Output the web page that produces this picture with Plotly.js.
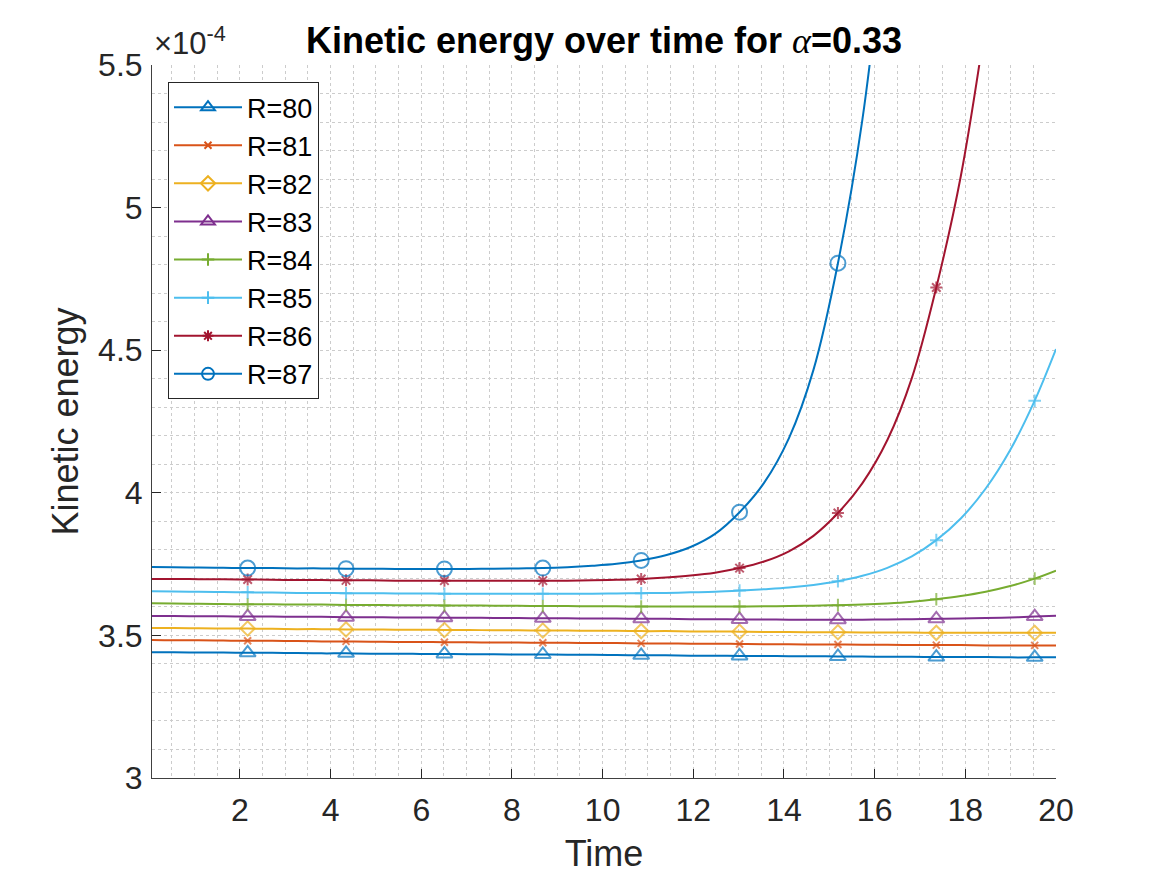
<!DOCTYPE html>
<html>
<head>
<meta charset="utf-8">
<script src="https://cdn.plot.ly/plotly-3.0.1.min.js"></script>
<style>
  html, body { margin: 0; padding: 0; background: #ffffff; }
  #chart { width: 1167px; height: 875px; }
  /* legend entries are drawn at full strength */
  #chart .legend .traces { opacity: 1 !important; }
</style>
</head>
<body>
<div id="chart"></div>
<script>
// Sample times of the simulation output
const time = [0.06, 0.54, 1.09, 1.63, 2.17, 2.71, 3.26, 3.80, 4.34, 4.88,
              5.43, 5.97, 6.51, 7.05, 7.60, 8.14, 8.68, 9.22, 9.77, 10.31,
              10.85, 11.39, 11.94, 12.48, 13.02, 13.56, 14.11, 14.65, 15.19, 15.73,
              16.28, 16.82, 17.36, 17.90, 18.45, 18.99, 19.53, 20.00];

// Times at which a marker is placed on each curve
const markerTimes = [2.17, 4.34, 6.51, 8.68, 10.85, 13.02, 15.19, 17.36, 19.53];

// Kinetic energy (in units of 1e-4) for each Reynolds number
const ke80 = [3.441, 3.441, 3.440, 3.440, 3.439, 3.439, 3.438, 3.437, 3.437, 3.436,
              3.436, 3.435, 3.435, 3.434, 3.434, 3.433, 3.433, 3.432, 3.432, 3.431,
              3.430, 3.430, 3.429, 3.429, 3.428, 3.428, 3.427, 3.427, 3.426, 3.426,
              3.425, 3.425, 3.424, 3.424, 3.424, 3.423, 3.423, 3.423];
const ke81 = [3.484, 3.483, 3.483, 3.482, 3.481, 3.481, 3.480, 3.479, 3.479, 3.478,
              3.477, 3.477, 3.476, 3.476, 3.475, 3.475, 3.474, 3.474, 3.473, 3.473,
              3.472, 3.472, 3.471, 3.471, 3.470, 3.469, 3.469, 3.468, 3.468, 3.467,
              3.467, 3.466, 3.466, 3.466, 3.465, 3.465, 3.465, 3.465];
const ke82 = [3.526, 3.526, 3.525, 3.524, 3.524, 3.523, 3.522, 3.522, 3.521, 3.521,
              3.520, 3.520, 3.519, 3.519, 3.518, 3.518, 3.517, 3.517, 3.516, 3.516,
              3.515, 3.515, 3.514, 3.514, 3.513, 3.512, 3.512, 3.511, 3.511, 3.510,
              3.510, 3.510, 3.509, 3.509, 3.509, 3.509, 3.509, 3.509];
const ke83 = [3.568, 3.568, 3.567, 3.567, 3.566, 3.566, 3.565, 3.565, 3.564, 3.564,
              3.563, 3.563, 3.562, 3.562, 3.561, 3.561, 3.560, 3.560, 3.559, 3.559,
              3.558, 3.558, 3.557, 3.557, 3.556, 3.556, 3.555, 3.555, 3.555, 3.555,
              3.556, 3.557, 3.558, 3.559, 3.561, 3.563, 3.566, 3.569];
const ke84 = [3.6125, 3.612, 3.611, 3.610, 3.609, 3.609, 3.608, 3.608, 3.607, 3.607,
              3.606, 3.606, 3.605, 3.605, 3.604, 3.604, 3.603, 3.603, 3.602, 3.602,
              3.601, 3.601, 3.601, 3.601, 3.601, 3.602, 3.603, 3.604, 3.606, 3.608,
              3.612, 3.618, 3.627, 3.638, 3.653, 3.673, 3.699, 3.727];
const ke85 = [3.655, 3.654, 3.653, 3.652, 3.651, 3.650, 3.649, 3.649, 3.648, 3.648,
              3.647, 3.647, 3.646, 3.646, 3.646, 3.646, 3.646, 3.646, 3.646, 3.647,
              3.648, 3.649, 3.651, 3.653, 3.657, 3.662, 3.668, 3.677, 3.690, 3.709,
              3.737, 3.777, 3.834, 3.910, 4.015, 4.150, 4.323, 4.504];
const ke86 = [3.698, 3.698, 3.697, 3.697, 3.696, 3.695, 3.694, 3.694, 3.693, 3.693,
              3.692, 3.692, 3.692, 3.692, 3.692, 3.692, 3.692, 3.692, 3.693, 3.695,
              3.698, 3.703, 3.710, 3.720, 3.736, 3.759, 3.795, 3.849, 3.929, 4.034,
              4.185, 4.402, 4.720, 5.110, 5.650, null, null, null];
const ke87 = [3.740, 3.739, 3.738, 3.737, 3.736, 3.736, 3.735, 3.735, 3.734, 3.734,
              3.733, 3.733, 3.733, 3.733, 3.734, 3.735, 3.736, 3.739, 3.744, 3.751,
              3.763, 3.781, 3.810, 3.856, 3.932, 4.035, 4.192, 4.431, 4.805, 5.309,
              6.050, null, null, null, null, null, null, null];

const seriesNames = ['R=80', 'R=81', 'R=82', 'R=83', 'R=84', 'R=85', 'R=86', 'R=87'];
const seriesValues = [ke80, ke81, ke82, ke83, ke84, ke85, ke86, ke87];

// Line colours and marker styles, one per curve
const colors = ['#0072BD', '#D95319', '#EDB120', '#7E2F8E', '#77AC30', '#4DBEEE', '#A2142F', '#0072BD'];
const symbols = ['triangle-up-open', 'x-thin-open', 'diamond-open', 'triangle-up-open',
                 'cross-thin-open', 'cross-thin-open', 'asterisk-open', 'circle-open'];
const symbolSizes = [14, 7, 11, 14, 9, 9, 10, 15];
const legendSymbolSizes = [12, 7, 11, 12, 9, 9, 9, 12];

const FONT = '"Liberation Sans", Arial, Helvetica, sans-serif';
const INK = '#262626';

const isMarker = time.map(t => markerTimes.some(m => Math.abs(m - t) < 1e-9));

const traces = [];
seriesNames.forEach((name, i) => {
  // the curve itself, with markers only at the marker times
  traces.push({
    type: 'scatter',
    mode: 'lines+markers',
    name: name,
    legendgroup: name,
    showlegend: false,
    x: time,
    y: seriesValues[i],
    line: { color: colors[i], width: 2, shape: 'spline', smoothing: 1 },
    marker: {
      symbol: symbols[i],
      size: isMarker.map(f => f ? symbolSizes[i] : 0),
      color: colors[i],
      line: { color: colors[i], width: 2 }
    },
    connectgaps: false,
    hoverinfo: 'x+y+name'
  });
});
seriesNames.forEach((name, i) => {
  // legend entry: same series, listed in the legend only
  traces.push({
    type: 'scatter',
    mode: 'lines+markers',
    name: name,
    legendgroup: name,
    showlegend: true,
    visible: 'legendonly',
    x: time,
    y: seriesValues[i],
    line: { color: colors[i], width: 2 },
    marker: {
      symbol: symbols[i],
      size: legendSymbolSizes[i],
      color: colors[i],
      line: { color: colors[i], width: 2 }
    }
  });
});

const gridColor = '#cccccc';

const layout = {
  width: 1167,
  height: 875,
  margin: { l: 152, r: 111, t: 65, b: 97 },
  paper_bgcolor: '#ffffff',
  plot_bgcolor: '#ffffff',
  font: { family: FONT, color: INK },
  title: {
    text: '<b>Kinetic energy over time for </b><span style="font-family:\'Liberation Serif\', \'DejaVu Serif\', serif"><i>α</i></span><b>=0.33</b>',
    font: { family: FONT, size: 36, color: '#000000' },
    x: 0.5,
    xref: 'paper',
    xanchor: 'center',
    y: 0.954,
    yref: 'container',
    yanchor: 'middle'
  },
  xaxis: {
    range: [0.06, 20],
    tick0: 0,
    dtick: 2,
    ticks: 'inside',
    ticklen: 9,
    tickwidth: 1,
    tickcolor: INK,
    showline: true,
    linecolor: '#404040',
    linewidth: 1,
    mirror: false,
    zeroline: false,
    showgrid: true,
    gridcolor: gridColor,
    griddash: 'dot',
    gridwidth: 1,
    ticklabelstandoff: 4,
    tickfont: { family: FONT, size: 32, color: INK },
    minor: { dtick: 0.5, tick0: 0, showgrid: true, gridcolor: gridColor, griddash: 'dot', gridwidth: 1 },
    title: { text: 'Time', font: { family: FONT, size: 36, color: INK }, standoff: 13 }
  },
  yaxis: {
    range: [3, 5.5],
    tick0: 3,
    dtick: 0.5,
    ticks: 'inside',
    ticklen: 9,
    tickwidth: 1,
    tickcolor: INK,
    showline: true,
    linecolor: '#404040',
    linewidth: 1,
    mirror: false,
    zeroline: false,
    showgrid: true,
    gridcolor: gridColor,
    griddash: 'dot',
    gridwidth: 1,
    ticklabelstandoff: 2,
    tickfont: { family: FONT, size: 32, color: INK },
    minor: { dtick: 0.1, tick0: 3, showgrid: true, gridcolor: gridColor, griddash: 'dot', gridwidth: 1 },
    title: { text: 'Kinetic energy', font: { family: FONT, size: 36, color: INK }, standoff: 8 }
  },
  showlegend: true,
  legend: {
    x: 0.0177,
    y: 0.976,
    xanchor: 'left',
    yanchor: 'top',
    bgcolor: '#ffffff',
    bordercolor: INK,
    borderwidth: 1,
    font: { family: FONT, size: 27, color: '#000000' },
    itemwidth: 68,
    itemclick: false,
    itemdoubleclick: false,
    tracegroupgap: 0
  },
  annotations: [{
    text: '×10<sup>-4</sup>',
    xref: 'paper', yref: 'paper',
    x: 0, y: 1,
    xanchor: 'left', yanchor: 'bottom',
    yshift: 2,
    showarrow: false,
    font: { family: FONT, size: 31, color: INK }
  }]
};

Plotly.newPlot('chart', traces, layout, { displayModeBar: false, staticPlot: true });
</script>
</body>
</html>
